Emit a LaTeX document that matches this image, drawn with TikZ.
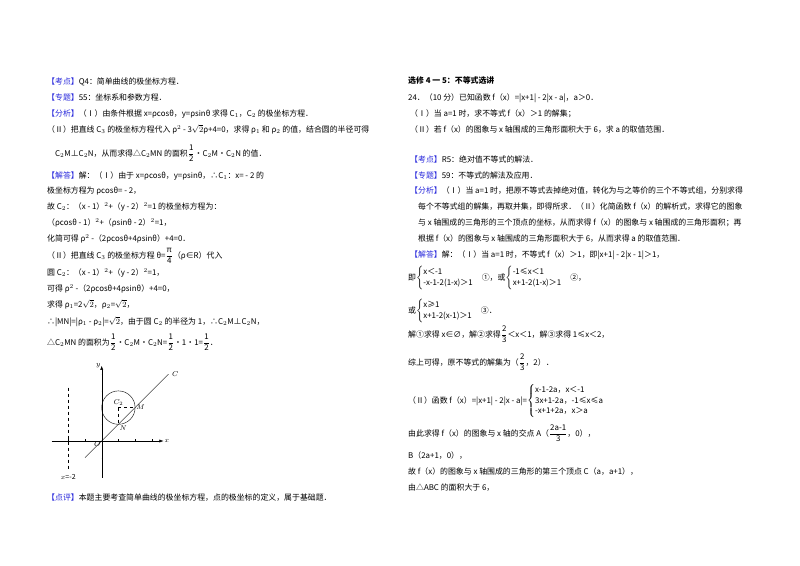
\documentclass[tikz,border=0pt]{standalone}
\usepackage{amsmath}
\usepackage{fontspec}
\setmainfont{Noto Sans CJK SC}
\usetikzlibrary{arrows.meta}
\definecolor{lab}{RGB}{40,40,220}
\newcommand{\Lb}[1]{\textcolor{lab}{【#1】}}
\newcommand{\Tx}[3]{\node[anchor=base west,inner sep=0pt,font=\fontsize{7.9}{9}\selectfont] at (#1pt,-#2pt) {#3};}
\newcommand{\Fr}[2]{$\dfrac{\text{#1}}{\text{#2}}$}
\begin{document}
\begin{tikzpicture}[x=1pt,y=1pt]
\useasboundingbox[fill=white] (0,0) rectangle (800,-565);
% left column
\Tx{47}{84}{\Lb{考点}Q4：简单曲线的极坐标方程．}
\Tx{47}{100}{\Lb{专题}55：坐标系和参数方程．}
\Tx{47}{116}{\Lb{分析}（Ⅰ）由条件根据 x=ρcosθ，y=ρsinθ 求得 C$_1$，C$_2$ 的极坐标方程．}
\Tx{47}{132}{（Ⅱ）把直线 C$_3$ 的极坐标方程代入 ρ$^2$ - 3$\sqrt{2}$ρ+4=0，求得 ρ$_1$ 和 ρ$_2$ 的值，结合圆的半径可得}
\Tx{55}{156}{C$_2$M⊥C$_2$N，从而求得△C$_2$MN 的面积\Fr{1}{2}•C$_2$M•C$_2$N 的值．}
\Tx{47}{178}{\Lb{解答}解：（Ⅰ）由于 x=ρcosθ，y=ρsinθ，∴C$_1$：x= - 2 的}
\Tx{47}{193}{极坐标方程为 ρcosθ= - 2，}
\Tx{47}{209}{故 C$_2$：（x - 1）$^2$+（y - 2）$^2$=1 的极坐标方程为：}
\Tx{47}{225}{（ρcosθ - 1）$^2$+（ρsinθ - 2）$^2$=1，}
\Tx{47}{241}{化简可得 ρ$^2$ -（2ρcosθ+4ρsinθ）+4=0．}
\Tx{47}{258}{（Ⅱ）把直线 C$_3$ 的极坐标方程 θ=\Fr{π}{4}（ρ∈R）代入}
\Tx{47}{275}{圆 C$_2$：（x - 1）$^2$+（y - 2）$^2$=1，}
\Tx{47}{291}{可得 ρ$^2$ -（2ρcosθ+4ρsinθ）+4=0，}
\Tx{47}{307}{求得 ρ$_1$=2$\sqrt{2}$，ρ$_2$=$\sqrt{2}$，}
\Tx{47}{324}{∴|MN|=|ρ$_1$ - ρ$_2$|=$\sqrt{2}$，由于圆 C$_2$ 的半径为 1，∴C$_2$M⊥C$_2$N，}
\Tx{47}{345}{△C$_2$MN 的面积为\Fr{1}{2}•C$_2$M•C$_2$N=\Fr{1}{2}•1•1=\Fr{1}{2}．}
% figure
\begin{scope}[shift={(101.7,-441)},x=16.7pt,y=16.7pt,font=\fontsize{7}{8}\selectfont]
\draw[-{Latex[length=4pt]}] (-3,0) -- (3.7,0) node (xl) [right,inner sep=1pt] {$x$};
\draw[-{Latex[length=4pt]}] (0,-2.2) -- (0,4.5) node (yl) [left,inner sep=1pt] {$y$};
\foreach \i in {-2,-1,1,2,3} \draw (\i,0) -- (\i,0.1);
\foreach \i in {-1,1,2,3,4} \draw (0,\i) -- (0.1,\i);
\draw[dashed] (-2,3.2) -- (-2,-1.8);
\node (lab) [below] at (-2,-1.8) {$x$=-2};
\draw (1,2) circle (1);
\draw (-1,-1) -- (4,4) node (C) [right] {$C$};
\coordinate (C2) at (1,2); \coordinate (M) at (2,2); \coordinate (N) at (1,1);
\draw[dashed] (C2) -- (M); \draw[dashed] (C2) -- (N);
\node (c2l) [above,inner sep=2pt] at (C2) {$C_2$};
\node (ml) [right,inner sep=1pt] at (M) {$M$};
\node (nl) [below right,inner sep=1pt] at (N) {$N$};
\node (ol) [below left,inner sep=1pt] at (0,0) {$O$};
\end{scope}
\Tx{47}{500}{\Lb{点评}本题主要考查简单曲线的极坐标方程，点的极坐标的定义，属于基础题．}
% right column
\Tx{408}{83}{\textbf{选修 4 一 5：不等式选讲}}
\Tx{408}{100}{24．（10 分）已知函数 f（x）=|x+1| - 2|x - a|，a＞0．}
\Tx{410}{116}{（Ⅰ）当 a=1 时，求不等式 f（x）＞1 的解集；}
\Tx{410}{132}{（Ⅱ）若 f（x）的图象与 x 轴围成的三角形面积大于 6，求 a 的取值范围．}
\Tx{410}{162}{\Lb{考点}R5：绝对值不等式的解法．}
\Tx{410}{178}{\Lb{专题}59：不等式的解法及应用．}
\Tx{410}{193}{\Lb{分析}（Ⅰ）当 a=1 时，把原不等式去掉绝对值，转化为与之等价的三个不等式组，分别求得}
\Tx{418}{209}{每个不等式组的解集，再取并集，即得所求．（Ⅱ）化简函数 f（x）的解析式，求得它的图象}
\Tx{418}{225}{与 x 轴围成的三角形的三个顶点的坐标，从而求得 f（x）的图象与 x 轴围成的三角形面积；再}
\Tx{418}{241}{根据 f（x）的图象与 x 轴围成的三角形面积大于 6，从而求得 a 的取值范围．}
\Tx{410}{257}{\Lb{解答}解：（Ⅰ）当 a=1 时，不等式 f（x）＞1，即|x+1| - 2|x - 1|＞1，}
\Tx{408}{280}{即$\begin{cases}\text{x＜-1}\\ \text{-x-1-2(1-x)＞1}\end{cases}$①，或$\begin{cases}\text{-1≤x＜1}\\ \text{x+1-2(1-x)＞1}\end{cases}$②，}
\Tx{408}{313}{或$\begin{cases}\text{x≥1}\\ \text{x+1-2(x-1)＞1}\end{cases}$③．}
\Tx{408}{337}{解①求得 x∈∅，解②求得\Fr{2}{3}＜x＜1，解③求得 1≤x＜2，}
\Tx{408}{365}{综上可得，原不等式的解集为（\Fr{2}{3}，2）．}
\Tx{408}{403}{（Ⅱ）函数 f（x）=|x+1| - 2|x - a|=$\renewcommand{\arraystretch}{1.3}\begin{cases}\text{x-1-2a，x＜-1}\\ \text{3x+1-2a，-1≤x≤a}\\ \text{-x+1+2a，x＞a}\end{cases}$}
\Tx{408}{436}{由此求得 f（x）的图象与 x 轴的交点 A（\Fr{2a-1}{3}，0），}
\Tx{408}{458}{B（2a+1，0），}
\Tx{408}{474}{故 f（x）的图象与 x 轴围成的三角形的第三个顶点 C（a，a+1），}
\Tx{408}{490}{由△ABC 的面积大于 6，}
\end{tikzpicture}
\end{document}
